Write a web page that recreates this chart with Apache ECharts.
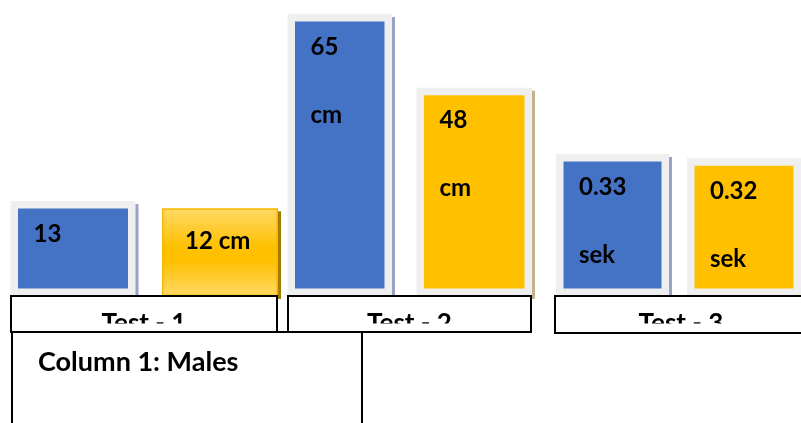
<!DOCTYPE html>
<html>
<head>
<meta charset="utf-8">
<script src="https://cdn.jsdelivr.net/npm/echarts@6/dist/echarts.min.js"></script>
<style>html,body{margin:0;padding:0;background:#fff}#c{width:801px;height:423px}</style>
</head>
<body>
<div id="c"></div>
<script>
// ---- data ----
const categories = ['Test - 1', 'Test - 2', 'Test - 3'];
const seriesNames = ['Males', 'Females'];
const maleValues = [13, 65, 0.33];
const femaleValues = [12, 48, 0.32];
const units = ['cm', 'cm', 'sek'];
const noteText = 'Column 1: Males';

// ---- layout / style ----
const baseline = 296;
const axisMax = [40.5, 68.2, 0.688];
const barLeft = [[10.5, 162], [287.5, 416.5], [556, 687]];
const barW = [[125, 116], [104.5, 115.5], [113, 115]];
const labelW = [[60, 100], [60, 60], [60, 60]];
const boxes = [[11, 296, 266, 36], [288, 296, 243, 36], [555, 296, 262, 37]];
const FONT = 'Lato';

const blueStyle = {color: '#4472C4', borderColor: '#efefef', borderWidth: 7.5};
const yellowFrame = {color: '#FFC000', borderColor: '#efefef', borderWidth: 7.5};
const yellowGrad = {
  color: {type: 'linear', x: 0, y: 0, x2: 0, y2: 1, colorStops: [
    {offset: 0, color: '#ffd966'}, {offset: 0.45, color: '#ffc000'},
    {offset: 0.6, color: '#ffc000'}, {offset: 1, color: '#ffd966'}]},
  borderColor: '#f5b800', borderWidth: 1.5};
const shadowCols = [['#97a4c4', '#a37d00'], ['#97a4c4', '#c2b38e'], ['#97a4c4', '#c2b38e']];

const grids = [], xAxes = [], yAxes = [], shadowSeries = [], series = [];
let gi = 0;
categories.forEach((cat, t) => {
  [maleValues, femaleValues].forEach((vals, s) => {
    const st = s === 0 ? blueStyle : (t === 0 ? yellowGrad : yellowFrame);
    [3, 0].forEach(off => {
      grids.push({left: barLeft[t][s] + off, width: barW[t][s], top: off, height: baseline});
      xAxes.push({type: 'category', gridIndex: gi, data: [cat], show: false});
      yAxes.push({type: 'value', gridIndex: gi, min: 0, max: axisMax[t], show: false});
      if (off) {
        shadowSeries.push({
          type: 'bar', xAxisIndex: gi, yAxisIndex: gi, data: [vals[t]], barWidth: '100%', clip: false,
          silent: true, itemStyle: {color: shadowCols[t][s], borderColor: shadowCols[t][s], borderWidth: st.borderWidth}
        });
      } else {
        series.push({
          type: 'bar', name: seriesNames[s], xAxisIndex: gi, yAxisIndex: gi,
          data: [vals[t]], barWidth: '100%', clip: false, itemStyle: st,
          label: {show: true, position: [23, -1], formatter: () => vals[t] + ' ' + units[t],
            width: labelW[t][s], overflow: 'break', lineHeight: 68,
            fontFamily: FONT, fontWeight: 'bold', fontSize: 24, color: '#000'}
        });
      }
      gi++;
    });
  });
});

const graphic = [];
boxes.forEach((b, i) => {
  graphic.push({type: 'rect', z: 100, shape: {x: b[0], y: b[1], width: b[2], height: b[3]},
    style: {fill: '#fff', stroke: '#000', lineWidth: 2}});
  graphic.push({type: 'text', z: 101, x: b[0] + b[2] / 2 - (i === 2 ? 5 : 0), y: 324,
    style: {text: categories[i], font: 'bold 26px ' + FONT, fill: '#000', align: 'center', verticalAlign: 'middle'}});
  graphic.push({type: 'rect', z: 102, shape: {x: b[0] + 1, y: 323.5, width: b[2] - 2, height: 30}, style: {fill: '#fff'}});
});
graphic.push({type: 'rect', z: 102, shape: {x: 0, y: 333.2, width: 801, height: 20}, style: {fill: '#fff'}});
boxes.forEach(b => {
  graphic.push({type: 'rect', z: 103, shape: {x: b[0], y: b[1], width: b[2], height: b[3]},
    style: {fill: 'none', stroke: '#000', lineWidth: 2}});
});
graphic.push({type: 'rect', z: 104, shape: {x: 12, y: 332, width: 350, height: 120},
  style: {fill: '#fff', stroke: '#000', lineWidth: 2}});
graphic.push({type: 'text', z: 105, x: 38, y: 362,
  style: {text: noteText, font: 'bold 27px ' + FONT, fill: '#000', align: 'left', verticalAlign: 'middle'}});

const chart = echarts.init(document.getElementById('c'), null, {renderer: 'canvas'});
chart.setOption({
  animation: false,
  grid: grids, xAxis: xAxes, yAxis: yAxes, series: shadowSeries.concat(series), graphic: graphic
});
</script>
</body>
</html>
